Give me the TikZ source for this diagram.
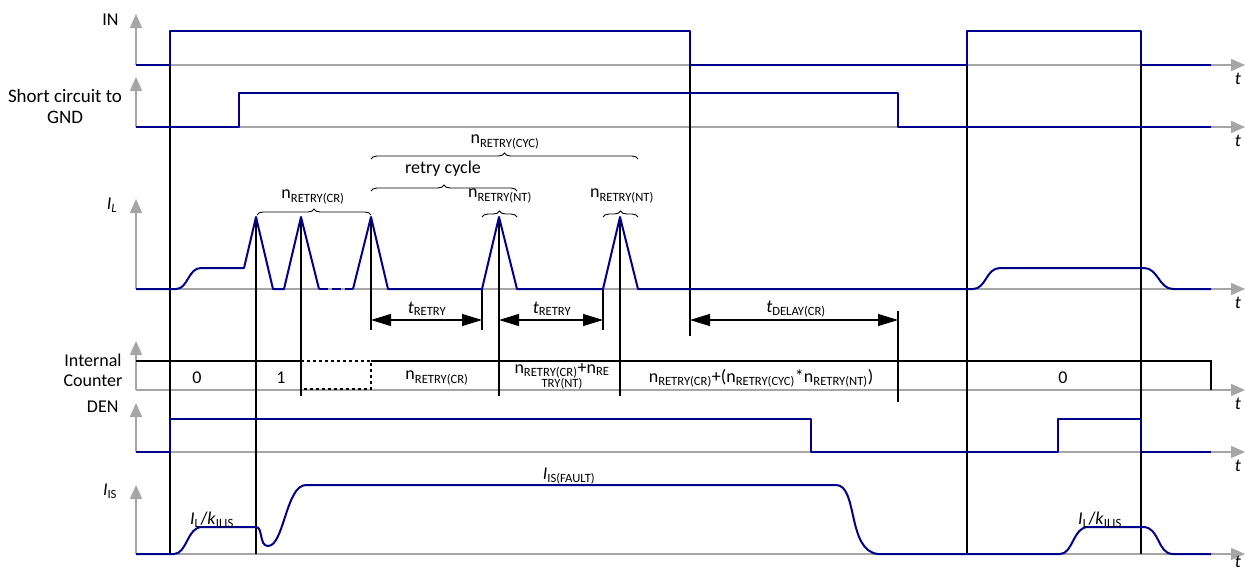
\documentclass[tikz,border=0pt]{standalone}
\usepackage{fontspec}
\setmainfont{Carlito}
\usetikzlibrary{arrows.meta,decorations.pathreplacing}

\definecolor{sigblue}{RGB}{0,0,140}
\definecolor{axgray}{RGB}{166,166,166}
\newcommand{\nret}[1]{n\textsubscript{RETRY(#1)}}

\begin{document}
\begin{tikzpicture}[x=1pt,y=-1pt,
    font=\fontsize{18}{20}\selectfont,
    sig/.style={draw=sigblue,line width=2pt,line join=round},
    axis/.style={draw=axgray,line width=1.5pt,-{Triangle[width=12pt,length=14pt]}},
    vline/.style={draw=black,line width=1.3pt},
    cnt/.style={draw=black,line width=2pt},
    dim/.style={{Triangle[width=12pt,length=20pt]}-{Triangle[width=12pt,length=20pt]},line width=1.2pt},
    brc/.style={decorate,decoration={brace,amplitude=6pt},line width=0.9pt}]
            \useasboundingbox (0,0) rectangle (1245,570);

            % axes of the six traces
            \foreach \b/\t/\l in {65/14/79,127/77/141,289/199/303,390/341/404,452/403/466,554/485/562}{
                \draw[axis] (136,\b) -- (136,\t);
                \draw[axis] (136,\b) -- (1245,\b);
                \node (t\b) at (1238,\l) {\itshape t};
            }

            % signal names
            \node[anchor=east] (lin) at (122,20) {IN};
            \node[align=center,font=\fontsize{19}{21}\selectfont] (lsc) at (65,106) {Short circuit to\\GND};
            \node (lil) at (112,205) {\textit{I}\textsubscript{\textit{L}}};
            \node[align=center] (lcnt) at (93,370) {Internal\\Counter};
            \node[anchor=east] (lden) at (122,407) {DEN};
            \node (lis) at (110,491) {\textit{I}\textsubscript{IS}};

            % time markers
            \draw[vline] (170,31) -- (170,554);
            \draw[vline] (256,217) -- (256,554);
            \draw[vline] (301,217) -- (301,396);
            \draw[vline] (371,217) -- (371,330);
            \draw[vline] (482,289) -- (482,330);
            \draw[vline] (499,217) -- (499,396);
            \draw[vline] (603,289) -- (603,330);
            \draw[vline] (620,217) -- (620,396);
            \draw[vline] (690,31) -- (690,336);
            \draw[vline] (898,311) -- (898,402);
            \draw[vline] (967,31) -- (967,554);
            \draw[vline] (1141,31) -- (1141,554);

            % IN and short circuit
            \draw[sig] (136,65) -- (170,65) -- (170,31) -- (690,31) -- (690,65) -- (967,65)
                -- (967,31) -- (1141,31) -- (1141,65) -- (1211,65);
            \draw[sig] (136,127) -- (239,127) -- (239,93) -- (898,93) -- (898,127) -- (1211,127);

            % load current
            \draw[sig] (136,289) -- (176,289) .. controls (188,289) and (188,268) .. (201,268)
                -- (244,268) -- (256,217) -- (273,289) -- (284,289) -- (301,217) -- (319,289);
            \draw[sig,dash pattern=on 9pt off 4pt] (319,289) -- (353,289);
            \draw[sig] (353,289) -- (371,217) -- (388,289) -- (482,289) -- (499,217) -- (517,289)
                -- (603,289) -- (620,217) -- (638,289) -- (973,289)
                .. controls (986,289) and (986,268) .. (1000,268) -- (1144,268)
                .. controls (1158,268) and (1159,289) .. (1173,289) -- (1211,289);

            % braces
            \draw[brc] (257,215) -- (371,215);
            \draw[brc] (371,191) -- (517,191);
            \draw[brc] (371,159) -- (638,159);
            \draw[brc] (482,217) -- (517,217);
            \draw[brc] (603,217) -- (638,217);
            \node (bcyc) at (505,142) {\nret{CYC}};
            \node (bcycle) at (443,169) {retry cycle};
            \node (bcr) at (313,197) {\nret{CR}};
            \node (bnt1) at (500,196) {\nret{NT}};
            \node (bnt2) at (622,196) {\nret{NT}};

            % retry and delay times
            \coordinate (r1) at (371,320);
            \coordinate (r2) at (482,320);
            \coordinate (r3) at (499,320);
            \coordinate (r4) at (603,320);
            \coordinate (d1) at (690,320);
            \coordinate (d2) at (898,320);
            \draw[dim] (r1) -- (r2);
            \draw[dim] (r3) -- (r4);
            \draw[dim] (d1) -- (d2);
            \node (tr1) at (427,309) {\textit{t}\textsubscript{RETRY}};
            \node (tr2) at (552,309) {\textit{t}\textsubscript{RETRY}};
            \node (tdl) at (796,309) {\textit{t}\textsubscript{DELAY(CR)}};

            % internal counter
            \draw[cnt] (136,361) -- (301,361);
            \draw[cnt,dashed,line width=1.5pt] (301,361) -- (371,361) -- (371,389) -- (301,389) -- cycle;
            \draw[cnt] (371,361) -- (1211,361) -- (1211,390);
            \node (c0) at (197,378) {0};
            \node (c1) at (281,378) {1};
            \node (ccr) at (437,378) {\nret{CR}};
            \node[align=center] (cnt1) at (562,376) {\nret{CR}+n\textsubscript{RE}\\[-6pt]{\fontsize{12.6}{13}\selectfont TRY(NT)}};
            \node (cnt2) at (761,378) {\nret{CR}+(\nret{CYC}*\nret{NT})};
            \node (c00) at (1063,378) {0};

            % DEN
            \draw[sig] (136,452) -- (170,452) -- (170,419) -- (811,419) -- (811,452) -- (1058,452)
                -- (1058,419) -- (1141,419) -- (1141,452) -- (1211,452);

            % sense current
            \draw[sig] (136,554) -- (174,554) .. controls (187,554) and (187,527) .. (202,527)
                -- (256,527) .. controls (263,527) and (259,546) .. (268,546)
                .. controls (284,546) and (286,485) .. (306,485) -- (836,485)
                .. controls (858,485) and (847,551) .. (878,554) -- (1060,554)
                .. controls (1073,554) and (1073,527) .. (1088,527) -- (1143,527)
                .. controls (1160,527) and (1157,554) .. (1173,554) -- (1211,554);
            \node (isf) at (569,476) {\textit{I}\textsubscript{IS(FAULT)}};
            \node (ik1) at (212,520) {\textit{I}\textsubscript{L}/\textit{k}\textsubscript{ILIS}};
            \node (ik2) at (1100,520) {\textit{I}\textsubscript{L}/\textit{k}\textsubscript{ILIS}};
        \end{tikzpicture}
\end{document}
